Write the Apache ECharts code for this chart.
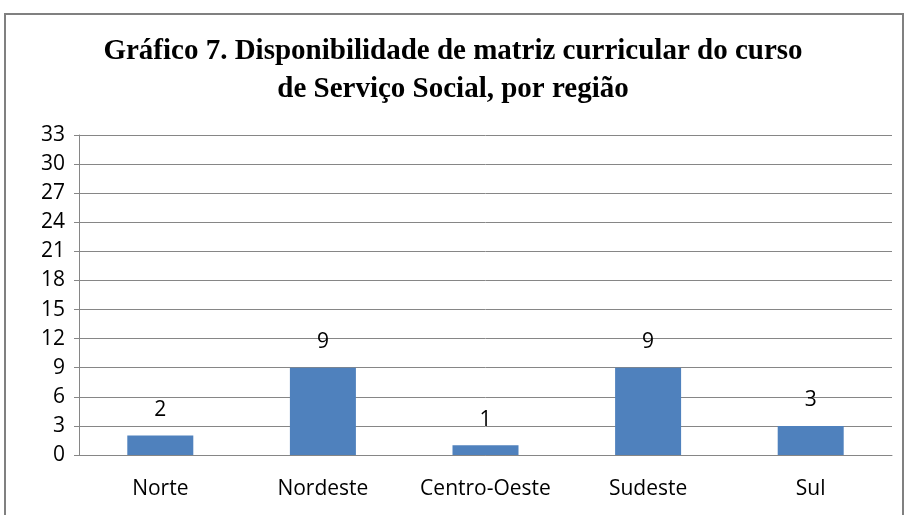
<!DOCTYPE html>
<html>
<head>
<meta charset="utf-8" />
<title>Gráfico 7</title>
<script src="https://cdn.jsdelivr.net/npm/echarts@6/dist/echarts.min.js"></script>
<style>
  html, body { margin: 0; padding: 0; background: #fff; }
  #chart { width: 906px; height: 515px; }
</style>
</head>
<body>
<div id="chart"></div>
<script>
  // dados
  var regioes = ['Norte', 'Nordeste', 'Centro-Oeste', 'Sudeste', 'Sul'];
  var valores = [2, 9, 1, 9, 3];
  var yMax = 33;
  var yStep = 3;

  var myChart = echarts.init(document.getElementById('chart'));

  myChart.setOption({
    animation: false,
    title: {
      text: 'Gráfico 7. Disponibilidade de matriz curricular do curso\nde Serviço Social, por região',
      left: 'center',
      top: 28,
      textStyle: {
        fontFamily: 'Liberation Serif',
        fontWeight: 'bold',
        fontSize: 29,
        lineHeight: 38,
        color: '#000'
      }
    },
    graphic: [{
      type: 'rect',
      shape: { x: 5, y: 14, width: 898, height: 520 },
      style: { fill: 'none', stroke: '#808080', lineWidth: 2 }
    }],
    grid: {
      left: 79,
      right: 14,
      top: 135,
      bottom: 60
    },
    xAxis: {
      type: 'category',
      data: regioes,
      axisLine: { lineStyle: { color: '#868686' } },
      axisTick: { length: 8, lineStyle: { color: '#868686' } },
      axisLabel: {
        interval: 0,
        margin: 24,
        fontFamily: 'Open Sans',
        fontSize: 21,
        color: '#000'
      }
    },
    yAxis: {
      type: 'value',
      min: 0,
      max: yMax,
      interval: yStep,
      axisLine: { show: true, lineStyle: { color: '#868686' } },
      axisTick: { show: true, length: 5, lineStyle: { color: '#868686' } },
      splitLine: { lineStyle: { color: '#868686' } },
      axisLabel: {
        margin: 14,
        fontFamily: 'Open Sans',
        fontSize: 21,
        color: '#000'
      }
    },
    series: [{
      type: 'bar',
      data: valores,
      barWidth: 66,
      itemStyle: { color: '#4F81BD' },
      label: {
        show: true,
        position: 'top',
        distance: 15,
        fontFamily: 'Open Sans',
        fontSize: 21,
        color: '#000'
      }
    }]
  });

  window.onresize = function() {
    myChart.resize();
  };
</script>
</body>
</html>
